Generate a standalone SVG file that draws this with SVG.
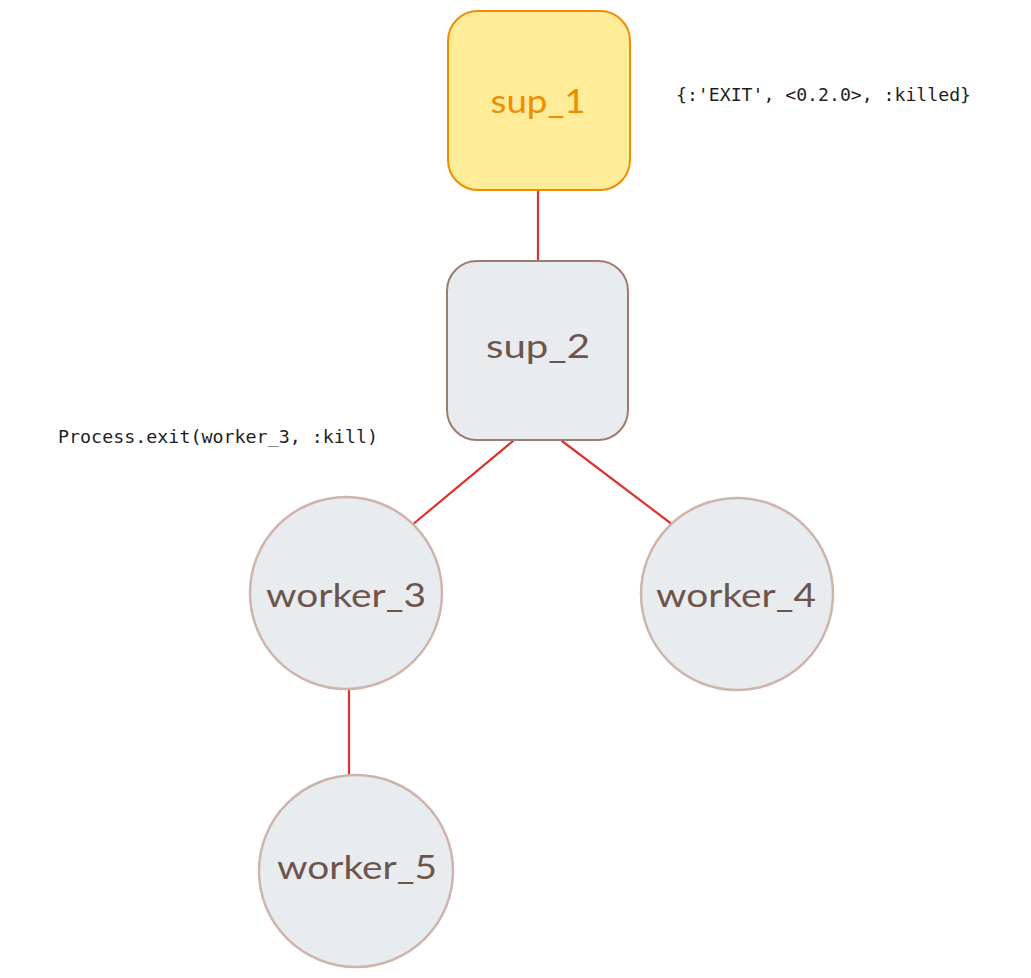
<svg xmlns="http://www.w3.org/2000/svg" width="1031" height="978" viewBox="0 0 1031 978">
<style>
.bg{fill:#ffffff}
.box{fill:#e9ecef;stroke:#9c7d70;stroke-width:2}
.box1{fill:#ffec99;stroke:#f08c00;stroke-width:2}
.circ{fill:#e9ecef;stroke:#cdb5ac;stroke-width:2.5}
.lbl{font-family:"Lato","Noto Sans",sans-serif;font-size:32px;fill:#6e554c;text-anchor:middle}
.lbl1{fill:#f08c00}
.code{font-family:"DejaVu Sans Mono","Liberation Mono",monospace;font-size:18px;fill:#1e1e1e}
.edge{stroke:#e03131;stroke-width:2.2;fill:none;stroke-linecap:round}
</style>
<rect class="bg" x="0" y="0" width="1031" height="978"/>
<g id="connectors">
<line class="edge" x1="538" y1="190" x2="538" y2="264"/>
<line class="edge" x1="513" y1="441" x2="412" y2="525"/>
<line class="edge" x1="562" y1="441" x2="673" y2="525"/>
<line class="edge" x1="349" y1="690" x2="349" y2="777"/>
</g>
<g id="sup_1">
<rect class="box1" x="448" y="11" width="182" height="179" rx="30"/>
<text class="lbl lbl1" x="538" y="113" textLength="95" lengthAdjust="spacingAndGlyphs">sup_1</text>
</g>
<g id="sup_2">
<rect class="box" x="447" y="261" width="181" height="179" rx="30"/>
<text class="lbl" x="538" y="358" textLength="104" lengthAdjust="spacingAndGlyphs">sup_2</text>
</g>
<g id="worker_3">
<ellipse class="circ" cx="346" cy="593" rx="96" ry="96"/>
<text class="lbl" x="346" y="607" textLength="160" lengthAdjust="spacingAndGlyphs">worker_3</text>
</g>
<g id="worker_4">
<ellipse class="circ" cx="737" cy="594" rx="96" ry="96"/>
<text class="lbl" x="736" y="607" textLength="160" lengthAdjust="spacingAndGlyphs">worker_4</text>
</g>
<g id="worker_5">
<ellipse class="circ" cx="356" cy="871" rx="97" ry="96"/>
<text class="lbl" x="357" y="879" textLength="160" lengthAdjust="spacingAndGlyphs">worker_5</text>
</g>
<g id="labels">
<text class="code" x="676" y="101" textLength="295" lengthAdjust="spacingAndGlyphs">{:'EXIT', &lt;0.2.0&gt;, :killed}</text>
<text class="code" x="58" y="443" textLength="320" lengthAdjust="spacingAndGlyphs">Process.exit(worker_3, :kill)</text>
</g>
</svg>
